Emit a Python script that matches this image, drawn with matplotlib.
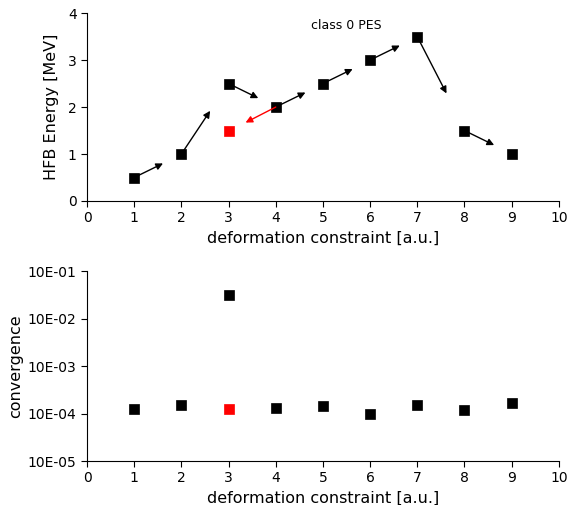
import matplotlib
matplotlib.use("Agg")
import matplotlib.pyplot as plt
import numpy as np
from matplotlib.ticker import FixedLocator, FixedFormatter, NullLocator

# energy surface points
x = [1, 2, 3, 4, 5, 6, 7, 8, 9]
energy = [0.5, 1.0, 2.5, 2.0, 2.5, 3.0, 3.5, 1.5, 1.0]
x_red = [3]
energy_red = [1.5]

# arrows: start point -> end point
arr_start = [(1, 0.5), (2, 1.0), (3, 2.5), (4, 2.0), (5, 2.5), (6, 3.0), (7, 3.5), (8, 1.5)]
arr_end = [(1.61, 0.80), (2.61, 1.92), (3.63, 2.19), (4.63, 2.31), (5.63, 2.81), (6.63, 3.31), (7.62, 2.29), (8.63, 1.19)]
red_start = (4, 2.0)
red_end = (3.36, 1.67)

# convergence
conv = [1.22e-4, 1.49e-4, 3.1e-2, 1.31e-4, 1.45e-4, 9.6e-5, 1.49e-4, 1.17e-4, 1.64e-4]
conv_red = [1.22e-4]
conv_ticks = [1e-5, 1e-4, 1e-3, 1e-2, 1e-1]
conv_labels = ["10E-05", "10E-04", "10E-03", "10E-02", "10E-01"]

plt.rcParams['font.family'] = 'DejaVu Sans'
plt.rcParams['font.size'] = 10

fig = plt.figure(figsize=(5.69, 5.05), dpi=100)
ax1 = fig.add_axes([0.153, 0.602, 0.829, 0.372])
ax2 = fig.add_axes([0.153, 0.087, 0.829, 0.376])

ms = 7.3

#Top: energy
ax1.plot(x, energy, 's', color='black', markersize=ms, markeredgewidth=0.5, linestyle='')
ax1.plot(x_red, energy_red, 's', color='red', markersize=ms, markeredgewidth=0.5, linestyle='')
for s, e in zip(arr_start, arr_end):
    ax1.annotate("", xy=e, xytext=s,
                 arrowprops=dict(arrowstyle='-|>', color='black', lw=1.0, mutation_scale=10, shrinkA=0, shrinkB=0))
ax1.annotate("", xy=red_end, xytext=red_start,
             arrowprops=dict(arrowstyle='-|>', color='red', lw=1.0, mutation_scale=10, shrinkA=0, shrinkB=0))
ax1.text(5.5, 3.74, "class 0 PES", ha='center', va='center', fontsize=9)
ax1.set_xlim(0, 10)
ax1.set_ylim(0, 4)
ax1.set_xticks(range(0, 11))
ax1.set_yticks(range(0, 5))
ax1.set_xlabel("deformation constraint [a.u.]", fontsize=11.5)
ax1.set_ylabel("HFB Energy [MeV]", fontsize=11.5, labelpad=6)

#Bottom: convergence
ax2.plot(x, conv, 's', color='black', markersize=ms, markeredgewidth=0.5, linestyle='')
ax2.plot(x_red, conv_red, 's', color='red', markersize=ms, markeredgewidth=0.5, linestyle='')
ax2.set_yscale('log')
ax2.set_xlim(0, 10)
ax2.set_ylim(1e-5, 1e-1)
ax2.yaxis.set_major_locator(FixedLocator(conv_ticks))
ax2.yaxis.set_major_formatter(FixedFormatter(conv_labels))
ax2.yaxis.set_minor_locator(NullLocator())
ax2.set_xticks(range(0, 11))
ax2.set_xlabel("deformation constraint [a.u.]", fontsize=11.5)
ax2.set_ylabel("convergence", fontsize=11.5, labelpad=3)

for ax in (ax1, ax2):
    ax.spines['top'].set_visible(False)
    ax.spines['right'].set_visible(False)
    ax.tick_params(length=4)

plt.savefig("out.png", dpi=100)
